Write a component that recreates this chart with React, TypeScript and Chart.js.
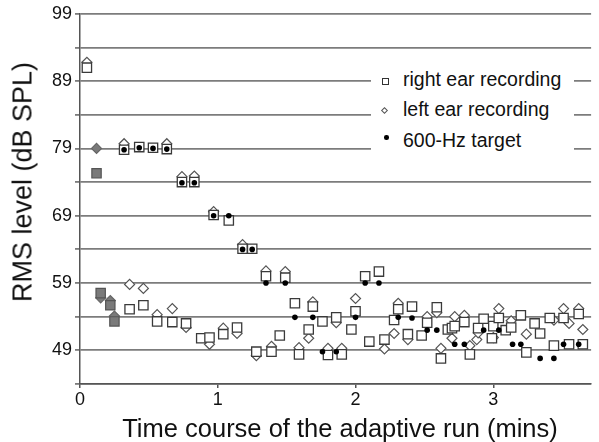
import React, { useEffect, useRef } from "react";
import { Chart, registerables } from "chart.js";
Chart.register(...registerables);

// ---- data (time in minutes, level in dB SPL) ----
const rightX = [0.05, 0.32, 0.36, 0.43, 0.46, 0.53, 0.56, 0.63, 0.67, 0.74, 0.77, 0.83, 0.88, 0.94, 0.97, 1.04, 1.08, 1.14, 1.18, 1.25, 1.28, 1.35, 1.39, 1.45, 1.49, 1.56, 1.59, 1.66, 1.69, 1.76, 1.80, 1.86, 1.90, 1.97, 2.00, 2.07, 2.10, 2.17, 2.21, 2.28, 2.31, 2.38, 2.41, 2.48, 2.52, 2.59, 2.62, 2.67, 2.70, 2.72, 2.79, 2.83, 2.89, 2.93, 2.99, 3.00, 3.04, 3.09, 3.13, 3.20, 3.24, 3.30, 3.34, 3.41, 3.44, 3.51, 3.55, 3.62, 3.65];
const rightY = [91.0, 78.8, 55.1, 79.2, 55.7, 79.1, 53.3, 78.9, 53.2, 74.0, 53.0, 74.0, 50.8, 50.9, 69.1, 51.4, 68.3, 52.4, 64.1, 64.1, 48.8, 60.0, 48.8, 51.2, 59.8, 56.0, 48.4, 52.1, 55.5, 53.3, 48.3, 53.9, 48.4, 52.1, 54.8, 60.0, 50.3, 60.7, 50.6, 53.5, 55.1, 51.4, 55.5, 51.2, 53.1, 55.4, 47.8, 52.1, 52.3, 52.6, 53.2, 48.4, 52.3, 53.7, 50.8, 52.6, 53.8, 52.0, 52.4, 54.2, 48.7, 53.0, 51.5, 53.8, 49.7, 53.8, 49.9, 54.4, 49.9];

const leftX = [0.05, 0.32, 0.36, 0.46, 0.56, 0.63, 0.67, 0.74, 0.77, 0.83, 0.94, 0.97, 1.04, 1.14, 1.18, 1.28, 1.35, 1.39, 1.49, 1.59, 1.66, 1.69, 1.80, 1.86, 1.90, 2.00, 2.21, 2.28, 2.31, 2.38, 2.52, 2.59, 2.62, 2.70, 2.72, 2.79, 2.83, 2.88, 2.89, 3.00, 3.04, 3.13, 3.24, 3.44, 3.51, 3.55, 3.62, 3.65];
const leftY = [91.8, 79.7, 58.8, 58.2, 54.3, 79.7, 55.2, 74.8, 52.4, 74.9, 49.9, 69.6, 52.3, 51.5, 64.7, 48.2, 60.8, 49.6, 60.7, 49.4, 50.8, 56.2, 49.3, 53.1, 49.3, 56.7, 49.2, 51.5, 56.0, 50.6, 54.0, 54.6, 49.3, 50.8, 54.0, 54.2, 49.7, 50.6, 51.6, 50.9, 55.2, 53.4, 51.4, 53.5, 55.2, 53.0, 55.2, 52.1];

const targetX = [0.32, 0.43, 0.53, 0.63, 0.74, 0.83, 0.97, 1.08, 1.18, 1.25, 1.35, 1.49, 1.56, 1.69, 1.76, 1.86, 2.00, 2.07, 2.17, 2.31, 2.41, 2.52, 2.59, 2.72, 2.79, 2.93, 3.04, 3.14, 3.20, 3.34, 3.44, 3.51, 3.62];
const targetY = [78.8, 79.1, 79.0, 78.9, 73.9, 73.9, 69.0, 69.0, 64.0, 64.0, 59.0, 59.0, 53.9, 53.9, 48.8, 48.8, 53.9, 59.0, 59.0, 53.9, 53.8, 52.0, 52.0, 49.9, 49.9, 52.0, 52.0, 49.9, 49.9, 47.8, 47.8, 49.9, 49.9];

// initial (grey) recordings
const grayRightX = [0.12, 0.15, 0.22, 0.25];
const grayRightY = [75.3, 57.5, 55.7, 53.3];
const grayLeftX = [0.12, 0.15, 0.22, 0.25];
const grayLeftY = [79.0, 56.8, 56.4, 54.1];

const xTicks = [0, 1, 2, 3];
const yTicks = [44, 49, 54, 59, 64, 69, 74, 79, 84, 89, 94, 99];
const yLabels = [49, 59, 69, 79, 89, 99];

const legendItems = ["right ear recording", "left ear recording", "600-Hz target"];
const xTitle = "Time course of the adaptive run (mins)";
const yTitle = "RMS level (dB SPL)";

const FONT = '"Liberation Sans", Arial, Helvetica, sans-serif';

function pts(xs: number[], ys: number[]) {
  return xs.map((x, i) => ({ x, y: ys[i] }));
}

export default function App() {
  const ref = useRef<HTMLCanvasElement | null>(null);

  useEffect(() => {
    document.body.style.margin = "0";
    const canvas = ref.current;
    if (!canvas) return;
    const chart = new Chart(canvas, {
      type: "scatter",
      data: {
        datasets: [
          {
            label: legendItems[2],
            data: pts(targetX, targetY),
            pointStyle: "circle",
            pointRadius: 2.8,
            backgroundColor: "#000",
            borderColor: "#000",
            borderWidth: 0,
            order: 0,
          },
          {
            label: legendItems[0],
            data: pts(rightX, rightY),
            pointStyle: "rect",
            pointRadius: 6.6,
            backgroundColor: "#fff",
            borderColor: "#3a3a3a",
            borderWidth: 1.3,
            order: 1,
          },
          {
            label: "initial right",
            data: pts(grayRightX, grayRightY),
            pointStyle: "rect",
            pointRadius: 6.6,
            backgroundColor: "#7a7a7a",
            borderColor: "#555",
            borderWidth: 1.2,
            order: 1,
          },
          {
            label: legendItems[1],
            data: pts(leftX, leftY),
            pointStyle: "rectRot",
            pointRadius: 5,
            backgroundColor: "#fff",
            borderColor: "#555",
            borderWidth: 1.2,
            order: 2,
          },
          {
            label: "initial left",
            data: pts(grayLeftX, grayLeftY),
            pointStyle: "rectRot",
            pointRadius: 5,
            backgroundColor: "#7a7a7a",
            borderColor: "#666",
            borderWidth: 1.2,
            order: 2,
          },
        ],
      },
      options: {
        animation: false,
        responsive: false,
        events: [],
        layout: { padding: { top: 12, right: 7, left: 0, bottom: 0 } },
        plugins: { legend: { display: false }, tooltip: { enabled: false } },
        scales: {
          x: {
            type: "linear",
            min: 0,
            max: 3.71,
            afterBuildTicks: (s: any) => {
              s.ticks = xTicks.map((v) => ({ value: v }));
            },
            afterFit: (s: any) => {
              s.height = 58;
            },
            grid: { drawOnChartArea: false, tickLength: 4, color: "#555", lineWidth: 1.5 },
            border: { color: "#555", width: 1.5 },
            ticks: {
              font: { family: FONT, size: 18 },
              color: "#111",
              padding: 1,
              maxRotation: 0,
              autoSkip: false,
              callback: (v: any) => String(v),
            },
          },
          y: {
            type: "linear",
            min: 44,
            max: 99,
            afterBuildTicks: (s: any) => {
              s.ticks = yTicks.map((v) => ({ value: v }));
            },
            afterFit: (s: any) => {
              s.width = 80;
            },
            grid: { color: "#7c7c7c", lineWidth: 1.8, tickLength: 5 },
            border: { color: "#555", width: 1.5 },
            ticks: {
              font: { family: FONT, size: 18 },
              color: "#111",
              padding: 3,
              autoSkip: false,
              callback: (v: any) => (yLabels.includes(Number(v)) ? String(v) : ""),
            },
          },
        },
      },
    } as any);
    return () => chart.destroy();
  }, []);

  const textStyle: React.CSSProperties = {
    position: "absolute",
    fontFamily: FONT,
    color: "#111",
    whiteSpace: "nowrap",
    lineHeight: 1,
  };

  const rowTops = [70, 99.5, 130.8];

  return (
    <div style={{ position: "fixed", left: 0, top: 0, width: 599, height: 442, background: "#fff" }}>
      <canvas ref={ref} width={599} height={442} style={{ display: "block", width: 599, height: 442 }} />
      {/* legend */}
      <div style={{ position: "absolute", left: 371, top: 63, width: 203, height: 94, background: "#fff" }} />
      <div style={{ position: "absolute", left: 382, top: 78, width: 7, height: 7, border: "1px solid #333", boxSizing: "border-box", background: "#fff" }} />
      <div style={{ position: "absolute", left: 382, top: 108, width: 5, height: 5, border: "1px solid #555", boxSizing: "border-box", transform: "rotate(45deg)", background: "#fff" }} />
      <div style={{ position: "absolute", left: 384, top: 135, width: 4.5, height: 4.5, borderRadius: "50%", background: "#000" }} />
      {legendItems.map((t, i) => (
        <div key={t} style={{ ...textStyle, left: 403, top: rowTops[i], fontSize: 19.5 }}>
          {t}
        </div>
      ))}
      {/* axis titles */}
      <div style={{ ...textStyle, left: 340, top: 429, fontSize: 25.5, transform: "translate(-50%, -50%)" }}>{xTitle}</div>
      <div style={{ ...textStyle, left: 22.6, top: 182, fontSize: 27, transform: "translate(-50%, -50%) rotate(-90deg)" }}>{yTitle}</div>
    </div>
  );
}
